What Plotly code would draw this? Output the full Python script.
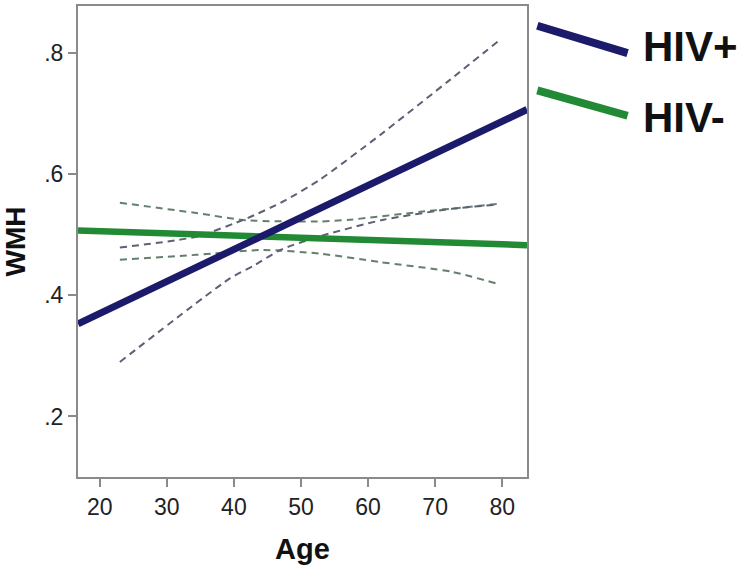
import plotly.graph_objects as go

# ---- data ----
fit_age = [16.76, 83.69]
hiv_pos_fit = [0.353, 0.707]
hiv_neg_fit = [0.507, 0.483]

hiv_pos_upper_age = [23, 34.4, 41.9, 47.5, 52.8, 61.8, 72.2, 79.3]
hiv_pos_upper = [0.479, 0.497, 0.527, 0.556, 0.591, 0.665, 0.756, 0.819]

hiv_pos_lower_age = [23, 39.4, 43.1, 46.9, 52.3, 62.3, 72.5, 79.3]
hiv_pos_lower = [0.290, 0.428, 0.450, 0.475, 0.496, 0.525, 0.543, 0.550]

hiv_neg_upper_age = [23, 34.4, 41.9, 52.8, 57.3, 67.8, 79.3]
hiv_neg_upper = [0.553, 0.536, 0.524, 0.522, 0.525, 0.538, 0.551]

hiv_neg_lower_age = [23, 34.4, 44.4, 52.8, 61.8, 72.5, 79.3]
hiv_neg_lower = [0.459, 0.467, 0.475, 0.469, 0.455, 0.439, 0.419]

x_tick_vals = [20, 30, 40, 50, 60, 70, 80]
y_tick_vals = [0.2, 0.4, 0.6, 0.8]
y_tick_text = [".2", ".4", ".6", ".8"]
legend_labels = ["HIV+", "HIV-"]

NAVY = "#1c1a6b"
GREEN = "#228a35"
DASH_POS = "#5f5f75"
DASH_NEG = "#64806c"
FONT = "Liberation Sans, Arial"

fig = go.Figure()

dash_style = "7px,5px"
for xs, ys, col in [(hiv_neg_upper_age, hiv_neg_upper, DASH_NEG),
                    (hiv_neg_lower_age, hiv_neg_lower, DASH_NEG),
                    (hiv_pos_upper_age, hiv_pos_upper, DASH_POS),
                    (hiv_pos_lower_age, hiv_pos_lower, DASH_POS)]:
    fig.add_trace(go.Scatter(x=xs, y=ys, mode="lines",
                             line=dict(color=col, width=2, dash=dash_style, shape="spline", smoothing=0.6),
                             showlegend=False))

fig.add_trace(go.Scatter(x=fit_age, y=hiv_neg_fit, mode="lines", name=legend_labels[1],
                         line=dict(color=GREEN, width=6.5), showlegend=False))
fig.add_trace(go.Scatter(x=fit_age, y=hiv_pos_fit, mode="lines", name=legend_labels[0],
                         line=dict(color=NAVY, width=7), showlegend=False))

# Legend drawn as sloped strokes like the reference
fig.add_shape(type="line", xref="paper", yref="paper", x0=1.023, y0=0.958, x1=1.224, y1=0.900,
              line=dict(color=NAVY, width=8))
fig.add_shape(type="line", xref="paper", yref="paper", x0=1.023, y0=0.821, x1=1.224, y1=0.767,
              line=dict(color=GREEN, width=8))
fig.add_annotation(text="<b>" + legend_labels[0] + "</b>", xref="paper", yref="paper", x=1.253, y=0.913,
                   xanchor="left", yanchor="middle", showarrow=False,
                   font=dict(family=FONT, size=42, color="#111"))
fig.add_annotation(text="<b>" + legend_labels[1] + "</b>", xref="paper", yref="paper", x=1.253, y=0.764,
                   xanchor="left", yanchor="middle", showarrow=False,
                   font=dict(family=FONT, size=42, color="#111"))

axis_common = dict(showgrid=False, zeroline=False, showline=True, linecolor="#8a8a8a",
                   linewidth=2, mirror=True, ticks="outside", ticklen=8, tickwidth=2,
                   tickcolor="#8a8a8a", automargin=False,
                   tickfont=dict(family=FONT, size=23, color="#222"))

fig.update_xaxes(range=[fit_age[0], fit_age[1]], tickvals=x_tick_vals,
                 title=dict(text="<b>Age</b>", font=dict(family=FONT, size=29, color="#111"),
                            standoff=20),
                 **axis_common)
fig.update_yaxes(range=[0.1, 0.878], tickvals=y_tick_vals, ticktext=y_tick_text,
                 title=dict(text="<b>WMH</b>", font=dict(family=FONT, size=28, color="#111"),
                            standoff=12),
                 **axis_common)

fig.update_layout(width=750, height=565, margin=dict(l=78, r=223, t=6, b=88),
                  plot_bgcolor="white", paper_bgcolor="white", showlegend=False)

fig.write_html("out.html", config={"displayModeBar": False},
               post_script="document.body.style.margin='0';document.body.style.overflow='hidden';")
